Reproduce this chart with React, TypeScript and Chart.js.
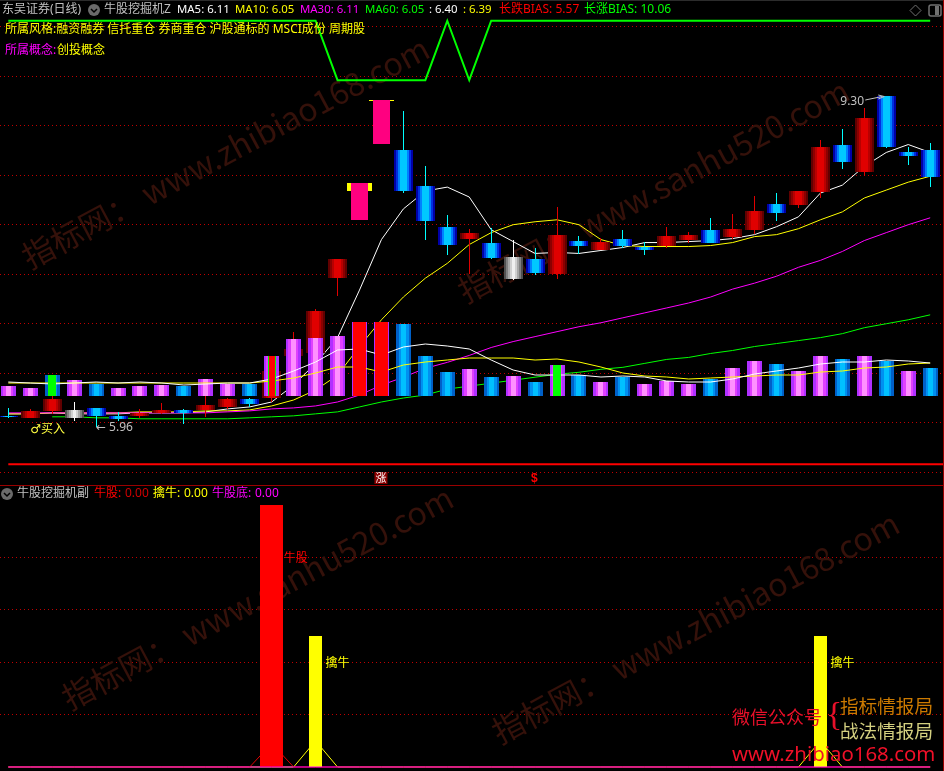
import React, { useEffect, useRef } from "react";
import Chart from "chart.js/auto";

// ---- data ----
const days = [0,1,2,3,4,5,6,7,8,9,10,11,12,13,14,15,16,17,18,19,20,21,22,23,24,25,26,27,28,29,30,31,32,33,34,35,36,37,38,39,40,41,42];
const opens = [6.07,6.05,6.12,6.13,6.15,6.07,6.07,6.10,6.13,6.13,6.16,6.24,6.25,6.67,6.70,7.46,8.05,8.82,8.75,8.39,7.98,7.86,7.82,7.67,7.65,7.50,7.84,7.74,7.86,7.78,7.79,7.85,7.95,7.88,7.95,8.21,8.20,8.33,8.81,8.53,9.30,8.73,8.75];
const closes = [6.06,6.12,6.24,6.05,6.07,6.04,6.10,6.13,6.10,6.18,6.24,6.19,6.52,6.75,7.13,7.65,8.42,9.26,8.34,8.04,7.80,7.92,7.66,7.45,7.51,7.90,7.79,7.83,7.79,7.74,7.89,7.90,7.82,7.96,8.14,8.12,8.34,8.79,8.63,9.08,8.79,8.69,8.48];
const highs = [6.15,6.14,6.27,6.21,6.15,6.11,6.14,6.20,6.14,6.27,6.25,6.25,6.52,6.92,7.15,7.65,8.42,9.26,9.15,8.59,8.10,7.96,7.97,7.85,7.77,8.18,7.89,7.87,7.95,7.83,7.98,7.93,8.07,8.11,8.29,8.32,8.34,8.86,8.97,9.18,9.30,8.79,8.83];
const lows = [6.05,6.05,6.09,6.02,5.96,6.02,6.05,6.09,5.99,6.06,6.14,6.16,6.21,6.66,6.68,7.28,8.05,8.82,8.32,7.85,7.69,7.50,7.65,7.44,7.49,7.45,7.70,7.74,7.77,7.69,7.77,7.82,7.82,7.86,7.91,8.04,8.17,8.27,8.56,8.49,8.77,8.60,8.38];
const grayDays = [3, 23];
const limitUpDays = [16, 17];
const limitUpCaps = [[8.34, 8.42], [9.25, 9.26]];

const ma5 = [6.09,6.09,6.10,6.09,6.09,6.09,6.10,6.10,6.10,6.11,6.14,6.16,6.21,6.38,6.60,6.86,7.34,7.85,8.16,8.34,8.38,8.28,7.95,7.83,7.71,7.72,7.71,7.74,7.77,7.82,7.82,7.83,7.84,7.86,7.90,7.98,8.08,8.32,8.40,8.59,8.73,8.81,8.73];
const ma10 = [6.09,6.09,6.10,6.10,6.10,6.10,6.11,6.11,6.11,6.12,6.12,6.13,6.17,6.23,6.33,6.48,6.77,7.04,7.27,7.46,7.61,7.80,7.92,8.00,8.03,8.05,8.00,7.85,7.79,7.78,7.78,7.78,7.79,7.82,7.88,7.90,7.96,8.05,8.13,8.27,8.35,8.43,8.49];
const ma30 = [6.10,6.10,6.10,6.10,6.10,6.10,6.10,6.10,6.10,6.10,6.11,6.12,6.14,6.15,6.17,6.21,6.28,6.38,6.46,6.55,6.61,6.68,6.76,6.82,6.87,6.92,6.97,7.01,7.06,7.11,7.16,7.21,7.27,7.35,7.41,7.48,7.57,7.64,7.73,7.84,7.92,8.00,8.07];
const ma60 = [null,null,6.06,6.06,6.05,6.05,6.04,6.04,6.04,6.04,6.04,6.05,6.06,6.07,6.09,6.11,6.16,6.21,6.25,6.28,6.34,6.37,6.40,6.43,6.46,6.49,6.51,6.54,6.56,6.60,6.64,6.66,6.70,6.73,6.77,6.80,6.83,6.86,6.90,6.96,7.00,7.04,7.09];
const trendLine = [10.06,10.06,10.06,10.06,10.06,10.06,10.06,10.06,10.06,10.06,10.06,10.06,10.06,10.06,10.06,9.46,9.46,9.46,9.46,9.46,10.06,9.46,10.06,10.06,10.06,10.06,10.06,10.06,10.06,10.06,10.06,10.06,10.06,10.06,10.06,10.06,10.06,10.06,10.06,10.06,10.06,10.06,10.06];
const redLevel = 5.58;
const priceGrid = [10, 9.5, 9, 8.5, 8, 7.5, 7, 6.5, 6, 5.5];

const volumes = [10,8,21,16,12,8,10,11,10,17,12,12,40,57,58,60,74,74,72,40,24,27,19,20,14,31,21,14,19,12,15,12,17,28,35,32,25,40,37,40,35,25,28];
const volBlueDays = [2,4,8,11,18,19,20,22,24,26,28,32,35,38,40,42];
const volRedDays = [16, 17];
const volGreenDays = [2, 12, 25];
const volCoreDays = [12];
const volMa5 = [14,13,12,13,14,13,14,13,11,12,13,13,17,25,34,46,47,41,49,52,50,47,36,26,21,21,21,19,20,19,15,14,14,17,22,25,28,32,34,34,36,35,33];
const volMa10 = [13,13,13,13,13,13,13,13,13,13,13,13,15,18,23,29,29,24,31,34,36,38,38,38,36,37,34,29,23,20,19,17,18,19,20,21,21,24,25,28,29,32,33];

const subGrid = [80, 60, 40, 20];
const bullBars = [[12, 100]];
const catchBars = [[14, 50], [37, 50]];
const bullRise = [0,0,0,0,0,0,0,0,0,0,0,0,9,0,0,0,0,0,0,0,0,0,0,0,0,0,0,0,0,0,0,0,0,0,0,0,0,0,0,0,0,0,0];
const catchRise = [0,0,0,0,0,0,0,0,0,0,0,0,0,0,10,0,0,0,0,0,0,0,0,0,0,0,0,0,0,0,0,0,0,0,0,0,0,10,0,0,0,0,0];
const bottomLine = [0,0,0,0,0,0,0,0,0,0,0,0,0,0,0,0,0,0,0,0,0,0,0,0,0,0,0,0,0,0,0,0,0,0,0,0,0,0,0,0,0,0,0];

const headerItems: [string, string, number][] = [
  ["东吴证券(日线)", "#c0c0c0", 2],
  ["牛股挖掘机Z", "#c0c0c0", 104],
  ["MA5: 6.11", "#ffffff", 177],
  ["MA10: 6.05", "#ffff00", 235],
  ["MA30: 6.11", "#ff00ff", 300],
  ["MA60: 6.05", "#00ff00", 365],
  [": 6.40", "#ffffff", 429],
  [": 6.39", "#ffff00", 463],
  ["长跌BIAS: 5.57", "#ff0000", 499],
  ["长涨BIAS: 10.06", "#00ff00", 584],
];
const subHeaderItems: [string, string, number][] = [
  ["牛股挖掘机副", "#c0c0c0", 17],
  ["牛股:", "#ff0000", 94],
  ["0.00", "#d00000", 125],
  ["擒牛:", "#ffff00", 153],
  ["0.00", "#ffff00", 184],
  ["牛股底:", "#ff00ff", 212],
  ["0.00", "#ff00ff", 255],
];
const styleLine = "所属风格:融资融券 信托重仓 券商重仓 沪股通标的 MSCI成份 周期股";
const conceptHead = "所属概念:";
const conceptBody = "创投概念";
const watermarks: [string, number, number][] = [
  ["指标网： www.zhibiao168.com", 30, 270],
  ["指标网： www.sanhu520.com", 466, 304],
  ["指标网： www.sanhu520.com", 70, 711],
  ["指标网： www.zhibiao168.com", 500, 745],
];

// ---- look ----
const CJK = '"Noto Sans CJK SC"';
const FONT = (s: number) => `${s}px "Noto Sans", ${CJK}`;
const STEP_BLUE = ["#0000a8", "#0030e0", "#0080ff", "#00c8ff", "#00c8ff"];
const STEP_RED = ["#600000", "#8c0000", "#b80000", "#e00000", "#e00000"];
const STEP_GRAY = ["#505050", "#808080", "#a8a8a8", "#d0d0d0", "#f0f0f0"];
const STEP_MAG = ["#b030ff", "#e040ff", "#ff90ff"];
const STEP_VBLUE = ["#0060c8", "#0090f0", "#00c0ff"];

const snap = (x: number, w: number) =>
  Math.round(w) % 2 === 1 ? Math.floor(x) + 0.5 : Math.round(x);

function stepped(pick: (day: number) => string[] | string, width: number) {
  return (ctx: any) => {
    if (ctx.type !== "data" || !ctx.parsed) return "#000";
    const bands = pick(ctx.parsed.x);
    if (typeof bands === "string") return bands;
    const x = snap(ctx.chart.scales.x.getPixelForValue(ctx.parsed.x), width);
    if (!Number.isFinite(x)) return bands[bands.length - 1];
    const g = ctx.chart.ctx.createLinearGradient(x - width / 2, 0, x + width / 2, 0);
    const all = [...bands, ...[...bands].reverse()];
    const n = all.length;
    all.forEach((c, k) => {
      g.addColorStop(k / n, c);
      g.addColorStop((k + 1) / n, c);
    });
    return g;
  };
}

const candleBands = (d: number) => {
  if (limitUpDays.includes(d)) return "#ff0080";
  if (grayDays.includes(d)) return STEP_GRAY;
  return closes[d] > opens[d] ? STEP_RED : STEP_BLUE;
};
const wickColor = (d: number) => {
  if (grayDays.includes(d)) return "#ffffff";
  return closes[d] > opens[d] ? "#e00000" : "#00ffff";
};

const barDefaults = { type: "bar", grouped: false, barPercentage: 10, categoryPercentage: 1, borderWidth: 0, inflateAmount: 0 };

function line(label: string, values: (number | null)[], color: string, yAxisID: string, order: number, borderWidth = 1) {
  return {
    type: "line", label, yAxisID, order, borderColor: color, borderWidth, pointRadius: 0, tension: 0,
    data: values.map((v, i) => ({ x: days[i], y: v })),
  };
}

const snapPlugin = {
  id: "pixelSnap",
  beforeDatasetsDraw(chart: any) {
    chart.getSortedVisibleDatasetMetas().forEach((meta: any) => {
      if (meta.type !== "bar") return;
      meta.data.forEach((el: any) => {
        el.x = snap(el.x, el.width);
        el.y = Math.round(el.y);
        el.base = Math.round(el.base);
      });
    });
  },
};

const watermarkPlugin = {
  id: "watermark",
  beforeDatasetsDraw(chart: any) {
    const c = chart.ctx;
    watermarks.forEach(([t, x, y]) => {
      c.save();
      c.translate(x, y);
      c.rotate((-28 * Math.PI) / 180);
      c.font = `32px ${CJK}`;
      c.fillStyle = "#35110a";
      c.textBaseline = "alphabetic";
      c.fillText(t, 0, 0);
      c.restore();
    });
  },
};

function put(c: any, t: string, x: number, y: number, color: string, font: string) {
  c.font = font;
  c.fillStyle = color;
  c.textBaseline = "middle";
  c.textAlign = "left";
  c.fillText(t, x, y);
}
function knob(c: any, x: number, y: number) {
  c.fillStyle = "#6a6a6a";
  c.beginPath();
  c.arc(x, y, 6, 0, Math.PI * 2);
  c.fill();
  c.strokeStyle = "#000";
  c.lineWidth = 1.5;
  c.beginPath();
  c.moveTo(x - 3, y - 1);
  c.lineTo(x, y + 2);
  c.lineTo(x + 3, y - 1);
  c.stroke();
}

const overlayPlugin = {
  id: "overlay",
  afterDraw(chart: any) {
    const c = chart.ctx;
    const X = (d: number) => chart.scales.x.getPixelForValue(d);
    const P = (v: number) => chart.scales.price.getPixelForValue(v);
    const S = (v: number) => chart.scales.sub.getPixelForValue(v);
    c.save();
    c.fillStyle = "#2c2c2c";
    c.fillRect(0, 0, 944, 1);
    c.fillStyle = "#9a0000";
    c.fillRect(0, 485, 944, 1);
    c.fillRect(943, 0, 1, 771);

    headerItems.forEach(([t, col, x]) => put(c, t, x, 10, col, FONT(/^[MA:]/.test(t) ? 11.4 : 12)));
    knob(c, 94, 10);
    subHeaderItems.forEach(([t, col, x]) => put(c, t, x, 494, col, FONT(12)));
    knob(c, 7, 494);

    c.strokeStyle = "#707070";
    c.lineWidth = 1;
    c.beginPath();
    c.moveTo(915.5, 5);
    c.lineTo(921, 10.5);
    c.lineTo(915.5, 16);
    c.lineTo(910, 10.5);
    c.closePath();
    c.stroke();
    c.lineWidth = 1.5;
    c.beginPath();
    c.roundRect(929, 5, 12, 11, 2);
    c.stroke();
    c.fillStyle = "#707070";
    c.fillRect(935, 6, 4, 9);

    put(c, styleLine, 5, 30, "#ffff00", FONT(12));
    put(c, conceptHead, 5, 51, "#ff00ff", FONT(12));
    put(c, conceptBody, 57, 51, "#ffff00", FONT(12));

    put(c, highs[40].toFixed(2), X(40) - 46, P(highs[40]) + 6, "#c0c0c0", FONT(12));
    c.strokeStyle = "#c0c0c0";
    c.lineWidth = 1;
    c.beginPath();
    c.moveTo(X(40) - 21, P(highs[40]) + 4);
    c.lineTo(X(40) - 4, P(highs[40]) + 0.5);
    c.moveTo(X(40) - 8, P(highs[40]) - 1);
    c.lineTo(X(40) - 2, P(highs[40]) + 0.5);
    c.lineTo(X(40) - 8, P(highs[40]) + 3);
    c.stroke();

    put(c, "←", X(4), P(lows[4]) + 1, "#c0c0c0", `12px "DejaVu Sans"`);
    put(c, lows[4].toFixed(2), X(4) + 13, P(lows[4]) + 1, "#c0c0c0", FONT(12));
    put(c, "♂买入", X(1), P(lows[1]) + 12, "#ffff40", `12px "DejaVu Sans", ${CJK}`);

    c.fillStyle = "#8a0000";
    c.fillRect(X(17) - 7, 472, 13, 12);
    put(c, "涨", X(17) - 6, 478, "#ffffff", `11px ${CJK}`);
    put(c, "$", X(24) - 4, 479, "#ff0000", `bold 12px "Liberation Sans"`);

    put(c, "牛股", X(12) + 12, S(80), "#ff0000", `12px ${CJK}`);
    [14, 37].forEach((d) => {
      put(c, "擒牛", X(d) + 10, S(40), "#ffff00", `12px ${CJK}`);
    });

    put(c, "微信公众号", 732, 717, "#e8102a", `18px ${CJK}`);
    put(c, "{", 826, 716, "#e8102a", `34px "Liberation Serif"`);
    put(c, "指标情报局", 840, 706, "#cc7a00", `18.6px ${CJK}`);
    put(c, "战法情报局", 840, 731, "#d4d080", `18.6px ${CJK}`);
    put(c, "www.zhibiao168.com", 732, 755, "#f01028", `20.4px "Noto Sans"`);
    c.restore();
  },
};

export default function App() {
  const ref = useRef<HTMLCanvasElement | null>(null);
  useEffect(() => {
    const canvas = ref.current;
    if (!canvas) return;
    const upDays = days.filter((d) => !limitUpDays.includes(d));
    const chart = new Chart(canvas, {
      type: "line",
      data: {
        datasets: [
          line("MA60", ma60, "#00ff00", "price", 90),
          line("MA30", ma30, "#ff00ff", "price", 91),
          line("MA10", ma10, "#ffff00", "price", 92),
          line("MA5", ma5, "#ffffff", "price", 93),
          line("Trend", trendLine, "#00ff00", "price", 80, 2),
          {
            type: "line", label: "Level", yAxisID: "price", order: 80, borderColor: "#ff0000", borderWidth: 2, pointRadius: 0,
            data: [{ x: days[0], y: redLevel }, { x: 42.63, y: redLevel }],
          },
          {
            ...barDefaults, label: "Wick", yAxisID: "price", order: 70, maxBarThickness: 1,
            backgroundColor: (ctx: any) => (ctx.parsed ? wickColor(ctx.parsed.x) : "#000"),
            data: upDays.map((d) => ({ x: d, y: [lows[d], highs[d]] })),
          },
          {
            ...barDefaults, label: "Cap", yAxisID: "price", order: 69, maxBarThickness: 25, backgroundColor: "#ffff00",
            data: limitUpDays.map((d, k) => ({ x: d, y: limitUpCaps[k] })),
          },
          {
            ...barDefaults, label: "Limit up", yAxisID: "price", order: 68, maxBarThickness: 17, backgroundColor: "#ff0080",
            data: limitUpDays.map((d) => ({ x: d, y: [opens[d], closes[d]] })),
          },
          {
            ...barDefaults, label: "Body", yAxisID: "price", order: 67, maxBarThickness: 19,
            backgroundColor: stepped(candleBands, 19),
            data: upDays.map((d) => ({ x: d, y: [opens[d], closes[d]] })),
          },
          {
            ...barDefaults, label: "Volume", yAxisID: "vol", order: 60, maxBarThickness: 15,
            backgroundColor: stepped((d) => (volBlueDays.includes(d) ? STEP_VBLUE : STEP_MAG), 15),
            data: days.map((d) => ({ x: d, y: volumes[d] })),
          },
          line("Vol MA10", volMa10, "#ffff00", "vol", 50),
          line("Vol MA5", volMa5, "#ffffff", "vol", 49),
          {
            ...barDefaults, label: "Vol red", yAxisID: "vol", order: 40, maxBarThickness: 13, backgroundColor: "#ff0000",
            data: volRedDays.map((d) => ({ x: d, y: volumes[d] })),
          },
          {
            ...barDefaults, label: "Vol green", yAxisID: "vol", order: 39, maxBarThickness: 8, backgroundColor: "#00ff00",
            data: volGreenDays.map((d) => ({ x: d, y: volumes[d] })),
          },
          {
            ...barDefaults, label: "Vol core", yAxisID: "vol", order: 38, maxBarThickness: 6, backgroundColor: "#ff0000",
            data: volCoreDays.map((d) => ({ x: d, y: volumes[d] })),
          },
          line("Bull rise", bullRise, "#e00000", "sub", 30),
          line("Catch rise", catchRise, "#ffff00", "sub", 30),
          {
            ...barDefaults, label: "牛股", yAxisID: "sub", order: 20, maxBarThickness: 23, backgroundColor: "#ff0000",
            data: bullBars.map(([d, v]) => ({ x: d, y: v })),
          },
          {
            ...barDefaults, label: "擒牛", yAxisID: "sub", order: 20, maxBarThickness: 13, backgroundColor: "#ffff00",
            data: catchBars.map(([d, v]) => ({ x: d, y: v })),
          },
          line("牛股底", bottomLine, "#ff00ff", "sub", 10),
        ] as any,
      },
      options: {
        responsive: false,
        animation: false,
        layout: { padding: 0 },
        plugins: { legend: { display: false }, tooltip: { enabled: false }, title: { display: false } },
        scales: {
          x: { type: "linear", display: false, min: -0.378, max: 42.63, offset: false, ticks: { includeBounds: false } },
          price: {
            type: "linear", position: "left", min: 2.483, max: 10.2697,
            ticks: { display: false },
            grid: { color: "#c00000", drawTicks: false },
            border: { display: false, dash: [1, 3] },
            afterBuildTicks: (s: any) => { s.ticks = priceGrid.map((value) => ({ value })); },
          },
          vol: { type: "linear", display: false, min: -375, max: 396 },
          sub: {
            type: "linear", position: "left", min: -1.527, max: 292.748,
            ticks: { display: false },
            grid: { color: "#c00000", drawTicks: false },
            border: { display: false, dash: [1, 3] },
            afterBuildTicks: (s: any) => { s.ticks = subGrid.map((value) => ({ value })); },
          },
        },
      } as any,
      plugins: [snapPlugin, watermarkPlugin, overlayPlugin] as any,
    });
    return () => chart.destroy();
  }, []);
  return (
    <div style={{ position: "fixed", left: 0, top: 0, width: 944, height: 771, background: "#000", overflow: "hidden" }}>
      <canvas ref={ref} width={944} height={771} style={{ display: "block" }} />
    </div>
  );
}
